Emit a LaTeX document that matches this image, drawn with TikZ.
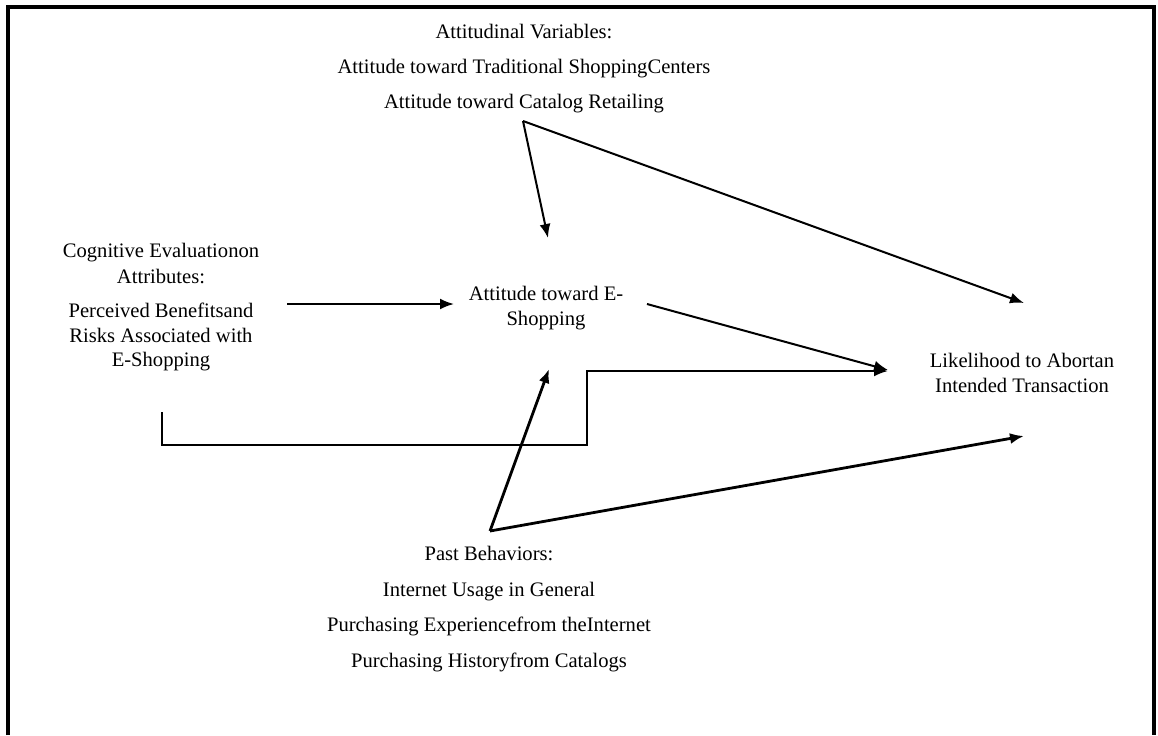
\documentclass[tikz,border=0pt]{standalone}
\usepackage{fontspec}
\setmainfont{Liberation Serif}
\usepackage{tikz}
\usetikzlibrary{arrows,arrows.meta,positioning}
\tikzstyle{arrow} = [line width=1pt,-{Latex[length=7pt,width=5.5pt]}]
\tikzstyle{thickarrow} = [line width=1.4pt,-{Latex[length=7pt,width=5.5pt]}]
\tikzstyle{label} = [align=center, inner sep=0pt, font=\fontsize{10.3pt}{12.3pt}\selectfont]

\begin{document}
\begin{tikzpicture}[x=0.5pt, y=-0.5pt]
\useasboundingbox (0,0) rectangle (1158,735);
% Open frame
\draw[line width=1.8pt] (8,735) -- (8,7) -- (1154,7) -- (1154,735);

% Blocks
\node[label] (attvar) at (524,69) {Attitudinal Variables:\\[5.2pt]
  Attitude toward Traditional ShoppingCenters\\[5.2pt]
  Attitude toward Catalog Retailing};
\node[label] (cogeval) at (161,307) {Cognitive Evaluationon\\[0.8pt]
  Attributes:\\[4.8pt]
  Perceived Benefitsand\\
  Risks Associated with\\
  E-Shopping};
\node[label] (eshop) at (546,308) {Attitude toward E-\\Shopping};
\node[label] (abort) at (1022,373) {Likelihood to Abortan\\ Intended Transaction};
\node[label] (pastbeh) at (489,609) {Past Behaviors:\\[5.5pt]
  Internet Usage in General\\[5.5pt]
  Purchasing Experiencefrom theInternet\\[5.5pt]
  Purchasing Historyfrom Catalogs};

% Connector ends
\coordinate (attS) at (523,121);
\coordinate (eshopN) at (548,238);
\coordinate (eshopW) at (454,304);
\coordinate (eshopE) at (647,304);
\coordinate (eshopS) at (549,369);
\coordinate (cogE) at (287,304);
\coordinate (cogS) at (162,412);
\coordinate (abortNW) at (1024,303);
\coordinate (abortW) at (888,370);
\coordinate (abortW2) at (888,371);
\coordinate (abortSW) at (1024,436);
\coordinate (pastN) at (490,531);

% Paths
\draw[arrow] (attS) -- (eshopN);
\draw[arrow] (attS) -- (abortNW);
\draw[arrow] (cogE) -- (eshopW);
\draw[arrow] (eshopE) -- (abortW);
\draw[arrow] (cogS) -- (162,445) -- (587,445) -- (587,371) -- (abortW2);
\draw[thickarrow] (pastN) -- (eshopS);
\draw[thickarrow] (pastN) -- (abortSW);
\end{tikzpicture}
\end{document}
